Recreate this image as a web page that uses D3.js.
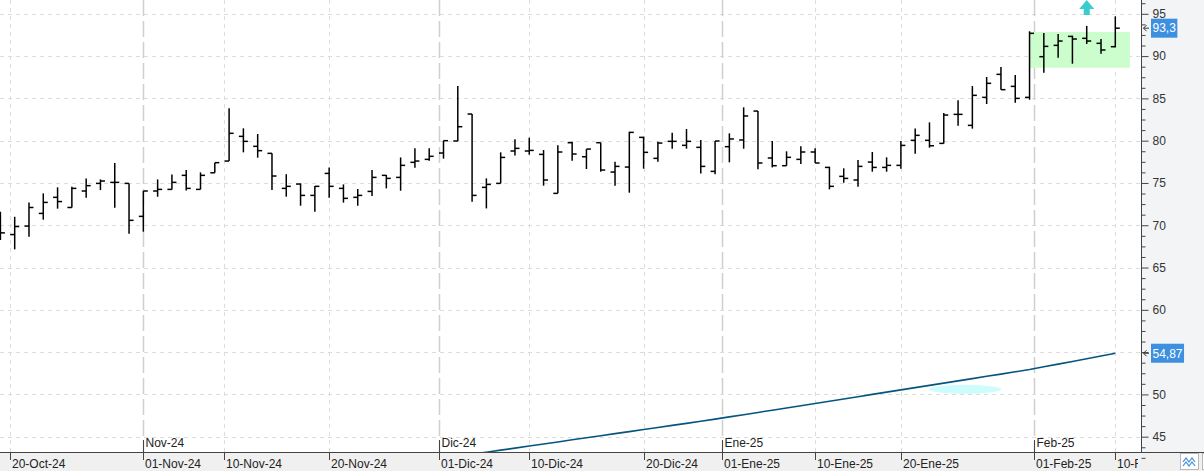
<!DOCTYPE html>
<html>
<head>
<meta charset="utf-8">
<script src="https://cdn.jsdelivr.net/npm/d3@7"></script>
<style>
  body { margin: 0; background: #fff; }
  svg { display: block; font-family: "Liberation Sans", Arial, sans-serif; }
</style>
</head>
<body>
<script>
const width = 1204;
const height = 476;
const plotRight = 1141;   // y axis line
const plotBottom = 452;   // x axis line

// trading days
const dates = [
  "2024-10-18",
  "2024-10-21", "2024-10-22", "2024-10-23", "2024-10-24", "2024-10-25",
  "2024-10-28", "2024-10-29", "2024-10-30", "2024-10-31", "2024-11-01",
  "2024-11-04", "2024-11-05", "2024-11-06", "2024-11-07", "2024-11-08",
  "2024-11-11", "2024-11-12", "2024-11-13", "2024-11-14", "2024-11-15",
  "2024-11-18", "2024-11-19", "2024-11-20", "2024-11-21", "2024-11-22",
  "2024-11-25", "2024-11-26", "2024-11-27", "2024-11-28", "2024-11-29",
  "2024-12-02", "2024-12-03", "2024-12-04", "2024-12-05", "2024-12-06",
  "2024-12-09", "2024-12-10", "2024-12-11", "2024-12-12", "2024-12-13",
  "2024-12-16", "2024-12-17", "2024-12-18", "2024-12-19", "2024-12-20",
  "2024-12-23", "2024-12-24", "2024-12-27", "2024-12-30", "2024-12-31",
  "2025-01-02", "2025-01-03",
  "2025-01-06", "2025-01-07", "2025-01-08", "2025-01-09", "2025-01-10",
  "2025-01-13", "2025-01-14", "2025-01-15", "2025-01-16", "2025-01-17",
  "2025-01-20", "2025-01-21", "2025-01-22", "2025-01-23", "2025-01-24",
  "2025-01-27", "2025-01-28", "2025-01-29", "2025-01-30", "2025-01-31",
  "2025-02-03", "2025-02-04", "2025-02-05", "2025-02-06", "2025-02-07",
  "2025-02-10"
];

const open = [70.0,
  68.9, 69.9, 71.4, 73.3, 72.1, 74.05, 74.95, 75.07, 74.95, 71.05,
  74.05, 74.24, 75.9, 74.24, 76.2, 77.59, 80.51, 79.33, 78.5, 74.36,
  74.87, 73.53, 76.13, 74.36, 73.3, 74.0, 75.9, 75.66, 77.44, 77.79,
  78.54, 79.96, 83.15, 74.48, 74.95, 78.78, 78.78, 78.38, 73.77, 79.76,
  78.1, 79.76, 76.29, 76.88, 80.39, 77.91, 79.92, 79.45, 79.21, 76.37,
  79.29, 80.08, 83.5, 77.95, 77.04, 77.79, 78.66, 76.84, 75.78, 75.35,
  77.47, 76.84, 77.08, 80.04, 80.04, 79.68, 83.11, 81.81, 85.12, 87.84,
  86.42, 85.12, 89.93, 91.27, 92.33, 92.1, 91.51, 91.11];
const high = [71.6,
  71.0, 72.7, 73.77, 74.48, 74.56, 75.54, 75.42, 77.36, 74.95, 74.05,
  75.42, 76.0, 76.53, 76.25, 77.4, 83.82, 81.46, 80.79, 78.5, 76.04,
  74.95, 74.64, 76.84, 74.83, 74.28, 76.53, 75.94, 78.02, 79.09, 79.09,
  80.0, 86.46, 83.15, 75.54, 78.62, 80.16, 80.35, 78.89, 79.45, 79.88,
  79.01, 79.76, 77.51, 81.06, 80.47, 79.88, 80.94, 81.38, 80.08, 79.96,
  80.87, 83.94, 83.5, 79.96, 78.74, 79.33, 79.09, 76.92, 76.73, 77.71,
  78.66, 78.03, 79.96, 81.45, 82.16, 83.27, 84.77, 86.46, 87.53, 88.71,
  87.76, 92.93, 92.73, 92.61, 92.41, 93.56, 92.02, 94.7];
const low = [68.25,
  67.15, 68.65, 70.66, 71.96, 72.1, 73.26, 74.16, 72.07, 69.0, 69.24,
  73.37, 74.24, 74.12, 74.24, 76.2, 77.59, 78.62, 77.99, 74.16, 73.38,
  72.31, 71.6, 73.26, 72.67, 72.31, 73.45, 74.36, 74.08, 76.8, 77.63,
  77.87, 79.96, 72.78, 71.99, 74.95, 78.26, 78.34, 74.68, 73.77, 77.63,
  76.65, 76.33, 74.68, 73.85, 76.69, 77.51, 79.05, 79.05, 76.13, 76.02,
  77.44, 79.05, 76.61, 76.84, 77.04, 77.24, 77.36, 74.24, 75.03, 74.56,
  76.33, 76.33, 76.68, 78.46, 79.17, 79.68, 81.77, 81.42, 84.33, 86.03,
  84.49, 84.84, 88.04, 89.81, 89.1, 91.43, 90.28, 91.03];
const close = [69.1,
  69.85, 72.1, 72.7, 72.8, 74.36, 74.68, 75.23, 75.07, 70.58, 74.05,
  74.24, 75.07, 74.36, 75.9, 77.4, 80.87, 79.92, 78.82, 75.82, 74.6,
  73.53, 74.6, 74.6, 73.18, 73.53, 75.66, 75.54, 77.08, 77.59, 78.15,
  80.0, 81.65, 73.53, 74.83, 78.02, 79.09, 78.85, 75.35, 78.66, 78.42,
  79.01, 76.53, 76.96, 80.98, 78.62, 79.72, 79.92, 79.92, 76.96, 79.96,
  80.2, 82.92, 77.36, 77.04, 78.03, 78.66, 77.36, 74.6, 75.54, 76.96,
  76.84, 77.08, 79.44, 80.63, 79.4, 83.03, 83.11, 85.36, 86.78, 86.03,
  85.0, 92.69, 91.15, 91.78, 92.02, 91.78, 90.72, 93.3];

// moving average (only the visible part, from 04-Dic)
const maStart = 33;
const ma = [42.93, 43.17, 43.41, 43.65, 43.9, 44.14, 44.38, 44.63, 44.87, 45.12,
  45.36, 45.6, 45.85, 46.09, 46.34, 46.58, 46.83, 47.08, 47.34, 47.6,
  47.87, 48.13, 48.4, 48.66, 48.93, 49.2, 49.46, 49.73, 50.0, 50.27,
  50.54, 50.8, 51.07, 51.33, 51.6, 51.87, 52.14, 52.4, 52.67, 52.94,
  53.26, 53.58, 53.9, 54.22, 54.55, 54.87];

// axis labels
const yMajor = [45, 50, 55, 60, 65, 70, 75, 80, 85, 90, 95];
const yMinorStep = 1.25;
const dayTicks = ["2024-10-20", "2024-11-01", "2024-11-10", "2024-11-20", "2024-12-01",
  "2024-12-10", "2024-12-20", "2025-01-01", "2025-01-10", "2025-01-20", "2025-02-01", "2025-02-10"];
const monthTicks = ["2024-11-01", "2024-12-01", "2025-01-01", "2025-02-01"];
const monthNames = ["Ene", "Feb", "Mar", "Abr", "May", "Jun", "Jul", "Ago", "Sep", "Oct", "Nov", "Dic"];

// drawn annotations (in data units)
const zoneBox = { from: 72, to: 79.03, low: 88.63, high: 92.85 };
const signalArrow = { at: 76 };
const markEllipse = { at: 67.5, value: 50.6 };

/////////////////////////

const parse = d3.timeParse("%Y-%m-%d");
const tdays = dates.map(parse);
const fmtNum = d3.formatLocale({ decimal: ",", thousands: ".", grouping: [3], currency: ["", ""] }).format(".2~f");

const svg = d3.select("body").append("svg")
  .attr("width", width)
  .attr("height", height);

// Scales: one slot per trading day
const x = d3.scaleLinear().domain([0, dates.length - 1]).range([0.4, 1115.3]);
const y = d3.scaleLinear().domain([45, 95]).range([436.7, 13.8]);

// calendar date -> x, interpolating over non trading days
function xDate(d) {
  const i = d3.bisectLeft(tdays, d);
  if (i < tdays.length && +tdays[i] === +d) return x(i);
  const a = tdays[i - 1], b = tdays[i];
  return x(i - 1 + (d - a) / (b - a));
}

svg.append("defs").append("clipPath").attr("id", "plotclip")
  .append("rect").attr("x", 0).attr("y", 0).attr("width", plotRight).attr("height", plotBottom);
svg.select("defs").append("clipPath").attr("id", "xlabclip")
  .append("rect").attr("x", 0).attr("y", plotBottom).attr("width", 1138).attr("height", 24);

// backgrounds of the axis panels
svg.append("rect").attr("x", plotRight).attr("y", 0).attr("width", width - plotRight).attr("height", plotBottom)
  .attr("fill", "#f3f4f6");
svg.append("rect").attr("x", 0).attr("y", plotBottom).attr("width", width).attr("height", 19)
  .attr("fill", "#f0f0f0");

const g = svg.append("g").attr("clip-path", "url(#plotclip)");

// grid
g.selectAll(".hgrid").data(yMajor).join("line")
  .attr("x1", 0).attr("x2", plotRight)
  .attr("y1", d => Math.round(y(d)) + 0.5).attr("y2", d => Math.round(y(d)) + 0.5)
  .attr("stroke", "#dcdcdc").attr("stroke-dasharray", "4,4");

const monthSet = new Set(monthTicks);
g.selectAll(".vgrid").data(dayTicks.filter(d => !monthSet.has(d))).join("line")
  .attr("x1", d => Math.round(xDate(parse(d))) + 0.5).attr("x2", d => Math.round(xDate(parse(d))) + 0.5)
  .attr("y1", 0).attr("y2", plotBottom)
  .attr("stroke", "#dcdcdc").attr("stroke-dasharray", "4,4");
g.selectAll(".mgrid").data(monthTicks).join("line")
  .attr("x1", d => Math.round(xDate(parse(d))) + 0.5).attr("x2", d => Math.round(xDate(parse(d))) + 0.5)
  .attr("y1", 0).attr("y2", plotBottom)
  .attr("stroke", "#cfcfcf").attr("stroke-width", 1.5).attr("stroke-dasharray", "16,5");

// green zone
g.append("rect")
  .attr("x", x(zoneBox.from)).attr("width", x(zoneBox.to) - x(zoneBox.from))
  .attr("y", y(zoneBox.high)).attr("height", y(zoneBox.low) - y(zoneBox.high))
  .attr("fill", "#ccfdcc");

// cyan mark under the average
g.append("ellipse")
  .attr("cx", x(markEllipse.at)).attr("cy", y(markEllipse.value))
  .attr("rx", 36).attr("ry", 4.5)
  .attr("fill", "#ccfcfc");

// moving average
const maLine = d3.line().x((d, i) => x(maStart + i)).y(d => y(d));
g.append("path").datum(ma)
  .attr("d", maLine)
  .attr("fill", "none").attr("stroke", "#06557f").attr("stroke-width", 1.6);

// OHLC bars
const bars = g.selectAll(".bar").data(dates.map((d, i) => i)).join("g")
  .attr("stroke", "#000").attr("stroke-width", 1.5).attr("fill", "none");
bars.append("line")
  .attr("x1", i => x(i)).attr("x2", i => x(i))
  .attr("y1", i => y(high[i])).attr("y2", i => y(low[i]));
bars.append("line")
  .attr("x1", i => x(i) - 4.5).attr("x2", i => x(i))
  .attr("y1", i => y(open[i])).attr("y2", i => y(open[i]));
bars.append("line")
  .attr("x1", i => x(i)).attr("x2", i => x(i) + 4.5)
  .attr("y1", i => y(close[i])).attr("y2", i => y(close[i]));

// signal arrow
const ax = x(signalArrow.at);
g.append("path")
  .attr("d", `M${ax},0 L${ax + 7.5},9 L${ax + 3},9 L${ax + 3},15 L${ax - 3},15 L${ax - 3},9 L${ax - 7.5},9 Z`)
  .attr("fill", "#38cccc");

// last values shown as tags on the axis; labels under them are hidden
const lastClose = close[close.length - 1];
const lastMa = ma[ma.length - 1];
const tagged = [lastClose, lastMa];
const hiddenByTag = v => tagged.some(t => Math.abs(y(v) - y(t)) < 12);

// y axis
const yTicksMinor = d3.range(45 - 2 * yMinorStep, 97, yMinorStep).filter(v => v % 5 !== 0);
const yaxis = svg.append("g").attr("transform", `translate(${plotRight + 0.5},0)`);
yaxis.call(d3.axisRight(y).tickValues(yMajor).tickSize(7).tickPadding(4)
  .tickFormat(v => hiddenByTag(v) ? "" : d3.format("d")(v)));
yaxis.append("g").call(d3.axisRight(y).tickValues(yTicksMinor).tickSize(4).tickFormat(""));
yaxis.selectAll(".domain").remove();
yaxis.selectAll("line").attr("stroke", "#444");
yaxis.selectAll("text").attr("fill", "#333").attr("font-size", 12)
  .attr("font-family", "'Liberation Sans', Arial, sans-serif");
svg.append("line").attr("x1", plotRight + 0.5).attr("x2", plotRight + 0.5)
  .attr("y1", 0).attr("y2", plotBottom).attr("stroke", "#444");

// x axis
svg.append("line").attr("x1", 0).attr("x2", width)
  .attr("y1", plotBottom + 0.5).attr("y2", plotBottom + 0.5).attr("stroke", "#444");

const xlab = svg.append("g").attr("clip-path", "url(#xlabclip)");
const dayFmt = d => d3.timeFormat("%d")(d) + "-" + monthNames[d.getMonth()] + "-" + d3.timeFormat("%y")(d);
dayTicks.forEach(s => {
  const d = parse(s), px = Math.round(xDate(d)) + 0.5;
  xlab.append("line").attr("x1", px).attr("x2", px).attr("y1", plotBottom).attr("y2", plotBottom + 8)
    .attr("stroke", "#444");
  xlab.append("text").attr("x", px + 1.5).attr("y", 468).attr("font-size", 12).attr("fill", "#222")
    .text(dayFmt(d));
});
monthTicks.forEach(s => {
  const d = parse(s), px = Math.round(xDate(d)) + 0.5;
  svg.append("line").attr("x1", px).attr("x2", px).attr("y1", 440).attr("y2", plotBottom)
    .attr("stroke", "#444");
  svg.append("text").attr("x", px + 2).attr("y", 447).attr("font-size", 12).attr("fill", "#222")
    .text(monthNames[d.getMonth()] + "-" + d3.timeFormat("%y")(d));
});

// last value labels
function valueTag(v, color) {
  const cy = y(v);
  const t = svg.append("text").attr("x", 1152.5).attr("y", cy + 4.3)
    .attr("font-size", 12).attr("fill", "#fff").text(fmtNum(v));
  const w = t.node().getComputedTextLength();
  svg.insert("rect", () => t.node())
    .attr("x", 1151).attr("y", cy - 9.5).attr("width", w + 3).attr("height", 19)
    .attr("fill", color);
  svg.append("path")
    .attr("d", `M${1149},${cy} H${1143.5} M${1146.5},${cy - 3} L${1143.5},${cy} L${1146.5},${cy + 3}`)
    .attr("stroke", "#333").attr("fill", "none");
}
tagged.forEach(v => valueTag(v, "#3d8fdf"));

// little buttons bottom right
svg.append("rect").attr("x", 1180.5).attr("y", 453.5).attr("width", 18).attr("height", 16)
  .attr("fill", "#fff").attr("stroke", "#b8b8b8");
svg.append("path").attr("d", "M1183,462 l3,-4 l3,4 l3,-4 l3,4 M1183,466 l3,-4 l3,4 l3,-4 l3,4")
  .attr("fill", "none").attr("stroke", "#3d8fdf").attr("stroke-width", 1.2);
svg.append("rect").attr("x", 1202.5).attr("y", 453.5).attr("width", 18).attr("height", 16)
  .attr("fill", "#fff").attr("stroke", "#b8b8b8");
</script>
</body>
</html>
